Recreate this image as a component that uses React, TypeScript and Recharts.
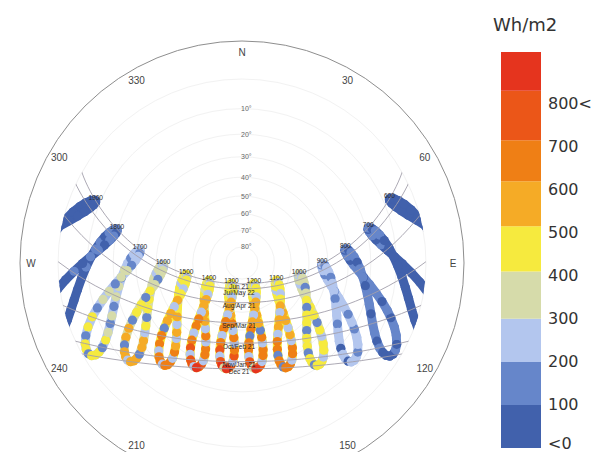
import React from 'react';
import {
  ScatterChart, Scatter, XAxis, YAxis,
  RadarChart, Radar, PolarGrid, PolarAngleAxis, PolarRadiusAxis,
  BarChart, Bar,
} from 'recharts';

// site
const LATITUDE = 36.4;
const LONGITUDE = 127.5;
const TIME_ZONE_MERIDIAN = 135;

// dates sampled for the analemmas (1st, 11th, 21st of each month)
const DATE_LABELS = [
  'Jan 1', 'Jan 11', 'Jan 21', 'Feb 1', 'Feb 11', 'Feb 21', 'Mar 1', 'Mar 11', 'Mar 21',
  'Apr 1', 'Apr 11', 'Apr 21', 'May 1', 'May 11', 'May 21', 'Jun 1', 'Jun 11', 'Jun 21',
  'Jul 1', 'Jul 11', 'Jul 21', 'Aug 1', 'Aug 11', 'Aug 21', 'Sep 1', 'Sep 11', 'Sep 21',
  'Oct 1', 'Oct 11', 'Oct 21', 'Nov 1', 'Nov 11', 'Nov 21', 'Dec 1', 'Dec 11', 'Dec 21',
];
const DECLINATION = [
  -23.0, -21.8, -20.1, -17.2, -14.3, -10.8, -7.8, -4.0, 0.0,
  4.4, 8.2, 11.8, 15.0, 17.8, 20.1, 22.0, 23.1, 23.44,
  23.1, 22.0, 20.5, 18.1, 15.3, 12.2, 8.4, 4.7, 0.8,
  -3.1, -6.9, -10.6, -14.4, -17.5, -20.1, -21.8, -23.0, -23.44,
];
// equation of time, minutes
const EQ_OF_TIME = [
  -3.2, -7.7, -11.1, -13.5, -14.2, -13.6, -12.4, -10.2, -7.3,
  -4.0, -1.0, 1.2, 2.9, 3.6, 3.5, 2.2, 0.6, -1.6,
  -3.8, -5.4, -6.3, -6.3, -5.3, -3.3, -0.1, 3.2, 6.7,
  10.1, 13.0, 15.3, 16.4, 16.0, 14.1, 11.0, 6.8, 1.9,
];

const HOURS = [6, 7, 8, 9, 10, 11, 12, 13, 14, 15, 16, 17, 18, 19];

// radiation, Wh/m2, per hour and date
const RAD_06 = [0, 0, 0, 0, 0, 0, 0, 0, 0, 10, 5, 25, 40, 20, 55, 60, 35, 65, 60, 30, 55, 45, 20, 30, 15, 5, 0, 0, 0, 0, 0, 0, 0, 0, 0, 0];
const RAD_07 = [10, 15, 5, 30, 40, 20, 55, 30, 75, 85, 40, 95, 105, 60, 110, 115, 70, 115, 110, 60, 105, 100, 55, 95, 85, 40, 80, 65, 30, 50, 35, 15, 20, 15, 5, 10];
const RAD_08 = [95, 100, 50, 120, 130, 65, 140, 60, 150, 155, 75, 160, 150, 90, 145, 140, 95, 140, 135, 80, 145, 150, 75, 155, 150, 65, 145, 135, 55, 125, 110, 50, 100, 95, 40, 90];
const RAD_09 = [255, 265, 120, 275, 280, 140, 270, 110, 260, 250, 130, 240, 230, 150, 220, 215, 140, 210, 210, 130, 220, 230, 120, 240, 250, 110, 260, 270, 100, 270, 265, 95, 255, 250, 85, 245];
const RAD_10 = [470, 480, 200, 480, 470, 230, 450, 180, 430, 410, 200, 385, 360, 220, 340, 330, 230, 330, 330, 200, 345, 365, 190, 395, 420, 170, 445, 460, 150, 470, 475, 140, 470, 465, 130, 460];
const RAD_11 = [660, 660, 260, 640, 620, 280, 590, 230, 560, 540, 250, 500, 470, 280, 450, 435, 300, 430, 430, 260, 450, 470, 240, 510, 545, 220, 580, 610, 200, 640, 655, 190, 660, 670, 180, 680];
const RAD_12 = [780, 760, 220, 700, 670, 260, 640, 180, 600, 570, 240, 530, 500, 300, 470, 460, 350, 450, 450, 280, 470, 490, 230, 530, 560, 210, 610, 640, 190, 680, 710, 250, 750, 790, 300, 840];
const RAD_13 = [820, 800, 260, 730, 690, 290, 650, 220, 620, 590, 260, 545, 510, 320, 480, 470, 360, 460, 455, 290, 480, 510, 250, 555, 590, 230, 630, 660, 210, 690, 730, 260, 780, 835, 300, 860];
const RAD_14 = [800, 780, 240, 710, 680, 270, 640, 210, 610, 570, 240, 530, 495, 300, 465, 455, 330, 445, 440, 270, 465, 495, 230, 540, 575, 210, 620, 650, 200, 680, 720, 240, 760, 810, 280, 840];
const RAD_15 = [680, 670, 220, 640, 610, 250, 570, 200, 540, 510, 230, 475, 450, 270, 430, 420, 300, 415, 410, 250, 430, 455, 220, 495, 525, 200, 560, 590, 190, 620, 650, 220, 670, 690, 250, 700];
const RAD_16 = [590, 590, 190, 560, 530, 220, 480, 180, 450, 420, 200, 380, 350, 230, 320, 300, 240, 290, 300, 210, 320, 350, 190, 390, 430, 170, 460, 500, 160, 540, 570, 190, 590, 600, 210, 610];
const RAD_17 = [440, 445, 160, 420, 400, 190, 370, 150, 350, 330, 170, 300, 280, 190, 260, 250, 200, 240, 250, 170, 260, 280, 160, 310, 340, 150, 360, 380, 140, 410, 430, 160, 440, 450, 170, 450];
const RAD_18 = [20, 25, 15, 40, 55, 35, 70, 50, 90, 105, 70, 115, 120, 95, 125, 130, 100, 135, 130, 95, 125, 120, 90, 115, 110, 70, 100, 90, 50, 70, 50, 30, 30, 20, 15, 15];
const RAD_19 = [0, 0, 0, 0, 0, 0, 0, 0, 5, 15, 10, 30, 45, 30, 60, 70, 45, 75, 70, 40, 60, 50, 25, 30, 15, 5, 0, 0, 0, 0, 0, 0, 0, 0, 0, 0];
const RADIATION = [RAD_06, RAD_07, RAD_08, RAD_09, RAD_10, RAD_11, RAD_12, RAD_13, RAD_14, RAD_15, RAD_16, RAD_17, RAD_18, RAD_19];

// daily sun path arcs
const ARC_LABELS = ['Jun 21', 'Jul/May 22', 'Aug/Apr 21', 'Sep/Mar 21', 'Oct/Feb 21', 'Nov/Jan 21', 'Dec 21'];
const ARC_DECLINATION = [23.44, 20.3, 12.0, 0.3, -10.7, -20.0, -23.44];
const ARC_TIMES = [4, 5, 6, 7, 8, 9, 10, 11, 12, 13, 14, 15, 16, 17, 18, 19, 20, 21];
const ARC_LABEL_TIME = 12.5;

const ALTITUDE_TICKS = [10, 20, 30, 40, 50, 60, 70, 80];
const DIRECTIONS = ['N', '30', '60', 'E', '120', '150', 'S', '210', '240', 'W', '300', '330'];

// legend
const LEGEND_STOPS = [0, 100, 200, 300, 410, 515, 620, 715, 830, 920];
const LEGEND_COLORS = ['#4161ac', '#6686ca', '#b3c6ee', '#d6dbaa', '#f6ea3e', '#f5ab26', '#ef7f15', '#eb5618', '#e5341e'];
const LEGEND_TICKS = [0, 100, 200, 300, 400, 500, 600, 700, 800];

// layout
const W = 610;
const H = 452;
const CX = 242;
const CY = 263;
const HORIZON_R = 184;
const FRAME_R = 222;
const DIR_LABEL_R = 211;
const X_DOMAIN = [-CX / HORIZON_R, (W - CX) / HORIZON_R];
const Y_DOMAIN = [(CY - H) / HORIZON_R, CY / HORIZON_R];

const RAD = Math.PI / 180;

function colorFor(v: number) {
  for (let i = 0; i < LEGEND_COLORS.length; i++) {
    if (v < LEGEND_STOPS[i + 1]) return LEGEND_COLORS[i];
  }
  return LEGEND_COLORS[LEGEND_COLORS.length - 1];
}

// stereographic projection of the sun position, horizon = 1
function sunXY(dec: number, eot: number, clock: number) {
  const solar = clock + (LONGITUDE - TIME_ZONE_MERIDIAN) / 15 + eot / 60;
  const h = (solar - 12) * 15 * RAD;
  const lat = LATITUDE * RAD;
  const d = dec * RAD;
  const alt = Math.asin(Math.sin(lat) * Math.sin(d) + Math.cos(lat) * Math.cos(d) * Math.cos(h));
  const az = Math.atan2(-Math.sin(h) * Math.cos(d), Math.sin(d) * Math.cos(lat) - Math.cos(d) * Math.sin(lat) * Math.cos(h));
  const rho = Math.tan((Math.PI / 2 - alt) / 2);
  return { x: rho * Math.sin(az), y: rho * Math.cos(az), alt: alt / RAD };
}

const altRho = (a: number) => Math.tan(((90 - a) / 2) * RAD);

const analemmas = HOURS.map((hour, hi) => {
  const values = RADIATION[hi];
  const points = DATE_LABELS.map((date, di) => ({
    ...sunXY(DECLINATION[di], EQ_OF_TIME[di], hour),
    date,
    value: values[di],
    color: colorFor(values[di]),
  }));
  const sorted = [...values].sort((a, b) => a - b);
  return { hour, points, lineColor: colorFor(sorted[Math.floor(sorted.length / 2)]) };
});

const juneIndex = DATE_LABELS.indexOf('Jun 21');
const hourLabels = HOURS.map((hour) => ({
  ...sunXY(DECLINATION[juneIndex], EQ_OF_TIME[juneIndex], hour),
  label: `${hour}00`,
}));

const arcs = ARC_DECLINATION.map((dec, i) => ({
  label: ARC_LABELS[i],
  points: ARC_TIMES.map((t) => sunXY(dec, 0, t)),
}));
const arcLabels = ARC_DECLINATION.map((dec, i) => ({ ...sunXY(dec, 0, ARC_LABEL_TIME), label: ARC_LABELS[i] }));

const altitudeLabels = ALTITUDE_TICKS.map((a) => ({ x: 0, y: altRho(a), label: `${a}°` }));
const altitudeRadii = ALTITUDE_TICKS.map((a) => HORIZON_R * altRho(a)).concat([HORIZON_R]);
const directionData = DIRECTIONS.map((dir) => ({ dir, v: 0 }));

const legendRow: Record<string, number | string> = { name: 'Wh/m2' };
LEGEND_COLORS.forEach((_, i) => {
  legendRow[`b${i}`] = LEGEND_STOPS[i + 1] - LEGEND_STOPS[i];
});
const legendData = [legendRow];

const FONT = '"Liberation Sans", Arial, sans-serif';
const LEGEND_FONT = '"DejaVu Sans", Verdana, sans-serif';

const renderNothing = () => <g />;

const renderDot = (props: any) => (
  <circle cx={props.cx} cy={props.cy} r={4.6} fill={props.payload.color} />
);

const makeText = (size: number, fill: string, anchor: 'start' | 'middle' | 'end', dx = 0, dy = 0) =>
  (props: any) => (
    <text
      x={props.cx + dx}
      y={props.cy + dy}
      fontSize={size}
      fill={fill}
      textAnchor={anchor}
      dominantBaseline="central"
      fontFamily={FONT}
    >
      {props.payload.label}
    </text>
  );

const renderDirTick = (props: any) => {
  const a = props.payload.coordinate * RAD;
  const x = CX + DIR_LABEL_R * Math.cos(-a);
  const y = CY + DIR_LABEL_R * Math.sin(-a);
  // labels that fall below the page are not drawn
  if (y > H - 4) return <g />;
  return (
    <text x={x} y={y} fontSize={10} fill="#444" textAnchor="middle" dominantBaseline="central" fontFamily={FONT}>
      {props.payload.value}
    </text>
  );
};

const legendLabel = (v: number) => (v === 0 ? '<0' : v === 800 ? '800<' : String(v));

const renderLegendTick = (props: any) => {
  const v = props.payload.value;
  // keep the lowest label inside the page
  const y = Math.min(props.y, H - 9);
  return (
    <text x={props.x} y={y} fontSize={16} fill="#333" textAnchor="start" dominantBaseline="central" fontFamily={LEGEND_FONT}>
      {legendLabel(v)}
    </text>
  );
};

export default function App() {
  return (
    <div style={{ position: 'absolute', left: 0, top: 0, width: W, height: H, background: '#fff', overflow: 'hidden' }}>
      <div style={{ position: 'absolute', left: 0, top: 0 }}>
        <RadarChart
          width={W}
          height={H}
          data={directionData}
          cx={CX}
          cy={CY}
          outerRadius={FRAME_R}
          startAngle={90}
          endAngle={-270}
          margin={{ top: 0, right: 0, bottom: 0, left: 0 }}
        >
          <PolarGrid gridType="circle" polarRadius={altitudeRadii} radialLines={false} stroke="#f2f2f2" />
          <PolarGrid gridType="circle" polarRadius={[FRAME_R]} radialLines={false} stroke="#8e8e8e" />
          <PolarAngleAxis dataKey="dir" tick={renderDirTick} axisLine={false} tickLine={false} />
          <PolarRadiusAxis domain={[0, 1]} tick={false} axisLine={false} />
          <Radar dataKey="v" stroke="none" fill="none" isAnimationActive={false} />
        </RadarChart>
      </div>

      <div
        style={{
          position: 'absolute', left: 0, top: 0, width: W, height: H,
          clipPath: `circle(${HORIZON_R}px at ${CX}px ${CY}px)`,
        }}
      >
        <ScatterChart width={W} height={H} margin={{ top: 0, right: 0, bottom: 0, left: 0 }}>
          <XAxis type="number" dataKey="x" domain={X_DOMAIN} allowDataOverflow hide />
          <YAxis type="number" dataKey="y" domain={Y_DOMAIN} allowDataOverflow hide />
          {analemmas.map((a) => (
            <Scatter
              key={`an-${a.hour}`}
              data={a.points}
              dataKey="y"
              shape={renderDot}
              line={{ stroke: a.lineColor, strokeWidth: 9, strokeLinejoin: 'round', strokeLinecap: 'round' }}
              lineType="joint"
              isAnimationActive={false}
            />
          ))}
          {arcs.map((arc) => (
            <Scatter
              key={`arc-${arc.label}`}
              data={arc.points}
              dataKey="y"
              shape={renderNothing}
              line={{ stroke: '#a39fab', strokeWidth: 0.9 }}
              lineType="joint"
              lineJointType="natural"
              isAnimationActive={false}
            />
          ))}
          <Scatter data={altitudeLabels} dataKey="y" shape={makeText(7, '#666', 'start', -1)} isAnimationActive={false} />
          <Scatter data={arcLabels} dataKey="y" shape={makeText(6.5, '#2a2a2a', 'middle', -3, 3)} isAnimationActive={false} />
          <Scatter data={hourLabels} dataKey="y" shape={makeText(6.5, '#2a2a2a', 'middle', 0, -3)} isAnimationActive={false} />
        </ScatterChart>
      </div>

      <div
        style={{
          position: 'absolute', left: 493, top: 13, fontSize: 18, lineHeight: '24px',
          color: '#333', fontFamily: LEGEND_FONT,
        }}
      >
        Wh/m2
      </div>
      <div style={{ position: 'absolute', left: 490, top: 0 }}>
        <BarChart
          width={120}
          height={H}
          data={legendData}
          margin={{ top: 52, right: 0, bottom: 4, left: 11 }}
          barCategoryGap={0}
        >
          <XAxis dataKey="name" hide />
          <YAxis
            orientation="right"
            type="number"
            domain={[0, LEGEND_STOPS[LEGEND_STOPS.length - 1]]}
            ticks={LEGEND_TICKS}
            interval={0}
            axisLine={false}
            tickLine={false}
            tickSize={0}
            tickMargin={7}
            width={69}
            tick={renderLegendTick}
          />
          {LEGEND_COLORS.map((c, i) => (
            <Bar key={`b${i}`} dataKey={`b${i}`} stackId="s" fill={c} isAnimationActive={false} />
          ))}
        </BarChart>
      </div>
    </div>
  );
}
